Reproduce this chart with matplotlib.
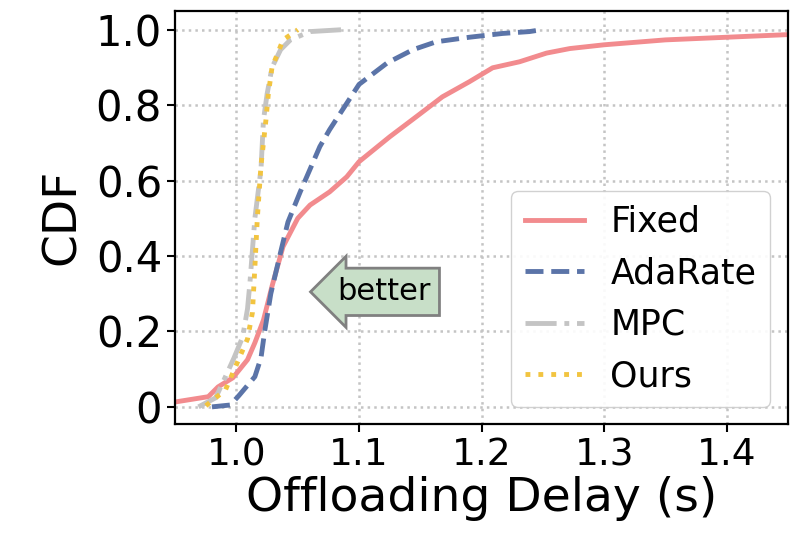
import numpy as np
import matplotlib.pyplot as plt

# CDF curves (delay in s, cumulative fraction)
fixed_x = [0.94, 0.95, 0.977, 0.985, 0.997, 1.009, 1.015, 1.022, 1.029, 1.038, 1.05, 1.06,
           1.076, 1.09, 1.1, 1.125, 1.147, 1.168, 1.19, 1.209, 1.231, 1.253, 1.272, 1.3,
           1.35, 1.4, 1.45, 1.5]
fixed_y = [0.01, 0.013, 0.027, 0.053, 0.077, 0.125, 0.17, 0.23, 0.32, 0.425, 0.5, 0.535,
           0.57, 0.61, 0.65, 0.716, 0.77, 0.822, 0.862, 0.899, 0.915, 0.938, 0.95, 0.96,
           0.973, 0.98, 0.987, 0.99]

adarate_x = [0.98, 0.995, 1.002, 1.015, 1.02, 1.023, 1.028, 1.036, 1.042, 1.052, 1.06,
             1.068, 1.076, 1.087, 1.1, 1.123, 1.144, 1.163, 1.19, 1.217, 1.239, 1.249]
adarate_y = [0.0, 0.005, 0.03, 0.08, 0.13, 0.2, 0.3, 0.41, 0.49, 0.57, 0.63,
             0.69, 0.735, 0.79, 0.855, 0.912, 0.947, 0.968, 0.98, 0.99, 0.995, 1.0]

mpc_x = [0.969, 0.983, 0.991, 0.998, 1.005, 1.009, 1.011, 1.015, 1.02, 1.022, 1.025,
         1.029, 1.036, 1.044, 1.06, 1.086]
mpc_y = [0.0, 0.024, 0.08, 0.13, 0.185, 0.26, 0.33, 0.5, 0.63, 0.76, 0.83,
         0.9, 0.947, 0.973, 0.995, 1.0]

ours_x = [0.975, 0.991, 0.999, 1.009, 1.013, 1.015, 1.017, 1.02, 1.024, 1.026, 1.029,
          1.038, 1.048, 1.05]
ours_y = [0.003, 0.045, 0.105, 0.18, 0.25, 0.37, 0.5, 0.64, 0.76, 0.83, 0.9,
          0.973, 0.995, 1.0]

yticks = [0, 0.2, 0.4, 0.6, 0.8, 1.0]
ytick_labels = ['0', '0.2', '0.4', '0.6', '0.8', '1.0']
xticks = [1.0, 1.1, 1.2, 1.3, 1.4]

fig = plt.figure(figsize=(8, 5.42), dpi=100)
ax = fig.add_axes([0.219, 0.218, 0.766, 0.762])

lw = 3.5
ax.plot(fixed_x, fixed_y, color='#F28B8E', lw=lw, ls='-', label='Fixed')
ax.plot(adarate_x, adarate_y, color='#5B74A8', lw=lw, ls='--', label='AdaRate')
ax.plot(mpc_x, mpc_y, color='#C4C4C4', lw=lw, ls='-.', label='MPC')
ax.plot(ours_x, ours_y, color='#F2C440', lw=lw, ls=':', label='Ours')

ax.set_xlim(0.95, 1.45)
ax.set_ylim(-0.045, 1.05)
ax.set_xticks(xticks)
ax.set_yticks(yticks)
ax.set_yticklabels(ytick_labels)
ax.tick_params(axis='y', labelsize=30, width=1.5, length=6)
ax.tick_params(axis='x', labelsize=27, width=1.5, length=6)
ax.set_xlabel('Offloading Delay (s)', fontsize=34, labelpad=2)
ax.set_ylabel('CDF', fontsize=34, labelpad=8)
ax.grid(True, ls=':', color='#C4C4C4', lw=1.8)
for s in ax.spines.values():
    s.set_linewidth(1.6)

ax.text(1.12, 0.305, 'better', fontsize=22, ha='center', va='center',
        bbox=dict(boxstyle='larrow,pad=0.3', fc='#C8DFC8', ec='#808080', lw=2))

ax.legend(fontsize=25, loc='lower right', handlelength=1.7, borderpad=0.4,
          labelspacing=0.5, handletextpad=0.75, borderaxespad=0,
          bbox_to_anchor=(0.971, 0.041), edgecolor='#CCCCCC', framealpha=0.9)

fig.savefig('out.png', dpi=100)
